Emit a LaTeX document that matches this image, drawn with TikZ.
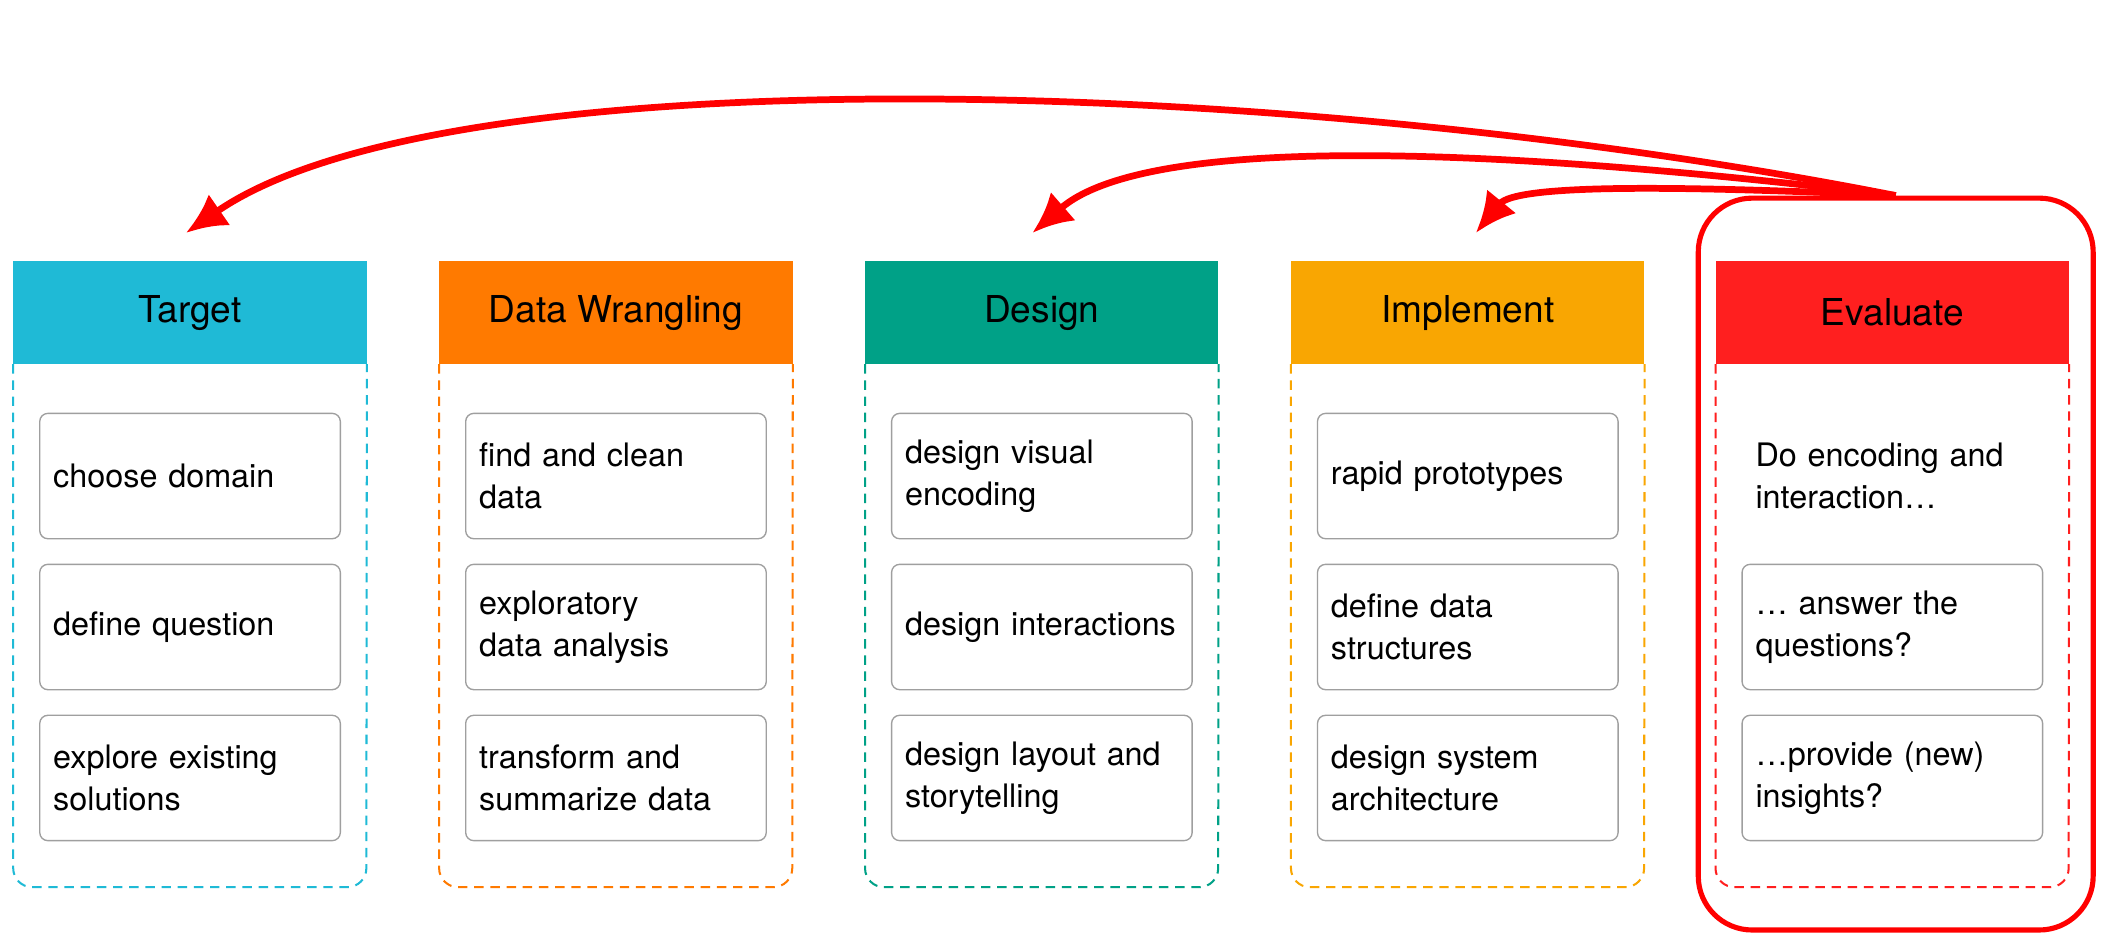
\documentclass[tikz,border=0pt]{standalone}
\usepackage{fontspec}
\setmainfont{TeX Gyre Heros}
\usetikzlibrary{arrows.meta,positioning}
\definecolor{tgtcol}{HTML}{1FBAD6}
\definecolor{wrgcol}{HTML}{FF7A00}
\definecolor{dsgcol}{HTML}{00A187}
\definecolor{impcol}{HTML}{F9A602}
\definecolor{evlcol}{HTML}{FF1F1F}
\tikzset{
  >={Latex[length=30pt,width=28pt]},
  x=1pt, y=1pt,
}
\tikzstyle{head}=[rectangle,minimum width=262pt,minimum height=76pt,inner sep=0pt,font=\fontsize{27.5}{33}\selectfont]
\tikzstyle{task}=[rectangle,draw=gray!75,line width=1pt,rounded corners=6pt,fill=white,text width=203pt,inner sep=10pt,minimum height=93pt,align=left,font=\fontsize{24}{31}\selectfont]
\tikzstyle{lane}=[dash pattern=on 7pt off 5pt,line width=1.5pt,rounded corners=14pt]
\tikzstyle{back}=[red,line width=5pt,->]
\tikzstyle{hilite}=[draw=red,line width=3.8pt,rounded corners=40pt,minimum width=293pt,minimum height=543pt]

\begin{document}
\begin{tikzpicture}
    \useasboundingbox[fill=white] (0,0) rectangle (1564,-693);

    % headers
    \node[head,fill=tgtcol] (tgt) at (141,-232) {Target};
    \node[head,fill=wrgcol] (wrg) at (457,-232) {Data Wrangling};
    \node[head,fill=dsgcol] (dsg) at (773,-232) {Design};
    \node[head,fill=impcol] (imp) at (1089,-232) {Implement};
    \node[head,fill=evlcol] (evl) at (1404,-232) {Evaluate};

    % dashed lanes
    \draw[lane,tgtcol] (tgt.south west) -- ++(0,-388) -- ++(262,0) -- (tgt.south east);
    \draw[lane,wrgcol] (wrg.south west) -- ++(0,-388) -- ++(262,0) -- (wrg.south east);
    \draw[lane,dsgcol] (dsg.south west) -- ++(0,-388) -- ++(262,0) -- (dsg.south east);
    \draw[lane,impcol] (imp.south west) -- ++(0,-388) -- ++(262,0) -- (imp.south east);
    \draw[lane,evlcol] (evl.south west) -- ++(0,-388) -- ++(262,0) -- (evl.south east);

    \node[task,below=36pt of tgt] (tgt1) {choose domain};
    \node[task,below=18pt of tgt1] (tgt2) {define question};
    \node[task,below=18pt of tgt2] (tgt3) {explore existing\\solutions};

    \node[task,below=36pt of wrg] (wrg1) {find and clean\\data};
    \node[task,below=18pt of wrg1] (wrg2) {exploratory\\data analysis};
    \node[task,below=18pt of wrg2] (wrg3) {transform and\\summarize data};

    \node[task,below=36pt of dsg] (dsg1) {design visual\\encoding};
    \node[task,below=18pt of dsg1] (dsg2) {design interactions};
    \node[task,below=18pt of dsg2] (dsg3) {design layout and\\storytelling};

    \node[task,below=36pt of imp] (imp1) {rapid prototypes};
    \node[task,below=18pt of imp1] (imp2) {define data\\structures};
    \node[task,below=18pt of imp2] (imp3) {design system\\architecture};

    \node[task,draw=none,fill=none,below=36pt of evl] (evl1) {Do encoding and\\interaction\dots};
    \node[task,below=18pt of evl1] (evl2) {\dots\ answer the\\questions?};
    \node[task,below=18pt of evl2] (evl3) {\dots provide (new)\\insights?};

    % feedback from evaluation
    \node[hilite] (evbox) at (1406.5,-418.5) {};
    \coordinate[above=21pt of tgt.north,xshift=-3pt] (tgtin);
    \coordinate[above=21pt of dsg.north,xshift=-7pt] (dsgin);
    \coordinate[above=21pt of imp.north,xshift=6pt] (impin);

    \draw[back] (evbox.north) .. controls (950,-55) and (330,-40) .. (tgtin);
    \draw[back] (evbox.north) .. controls (1100,-108) and (850,-100) .. (dsgin);
    \draw[back] (evbox.north) .. controls (1250,-138) and (1125,-136) .. (impin);
\end{tikzpicture}
\end{document}
